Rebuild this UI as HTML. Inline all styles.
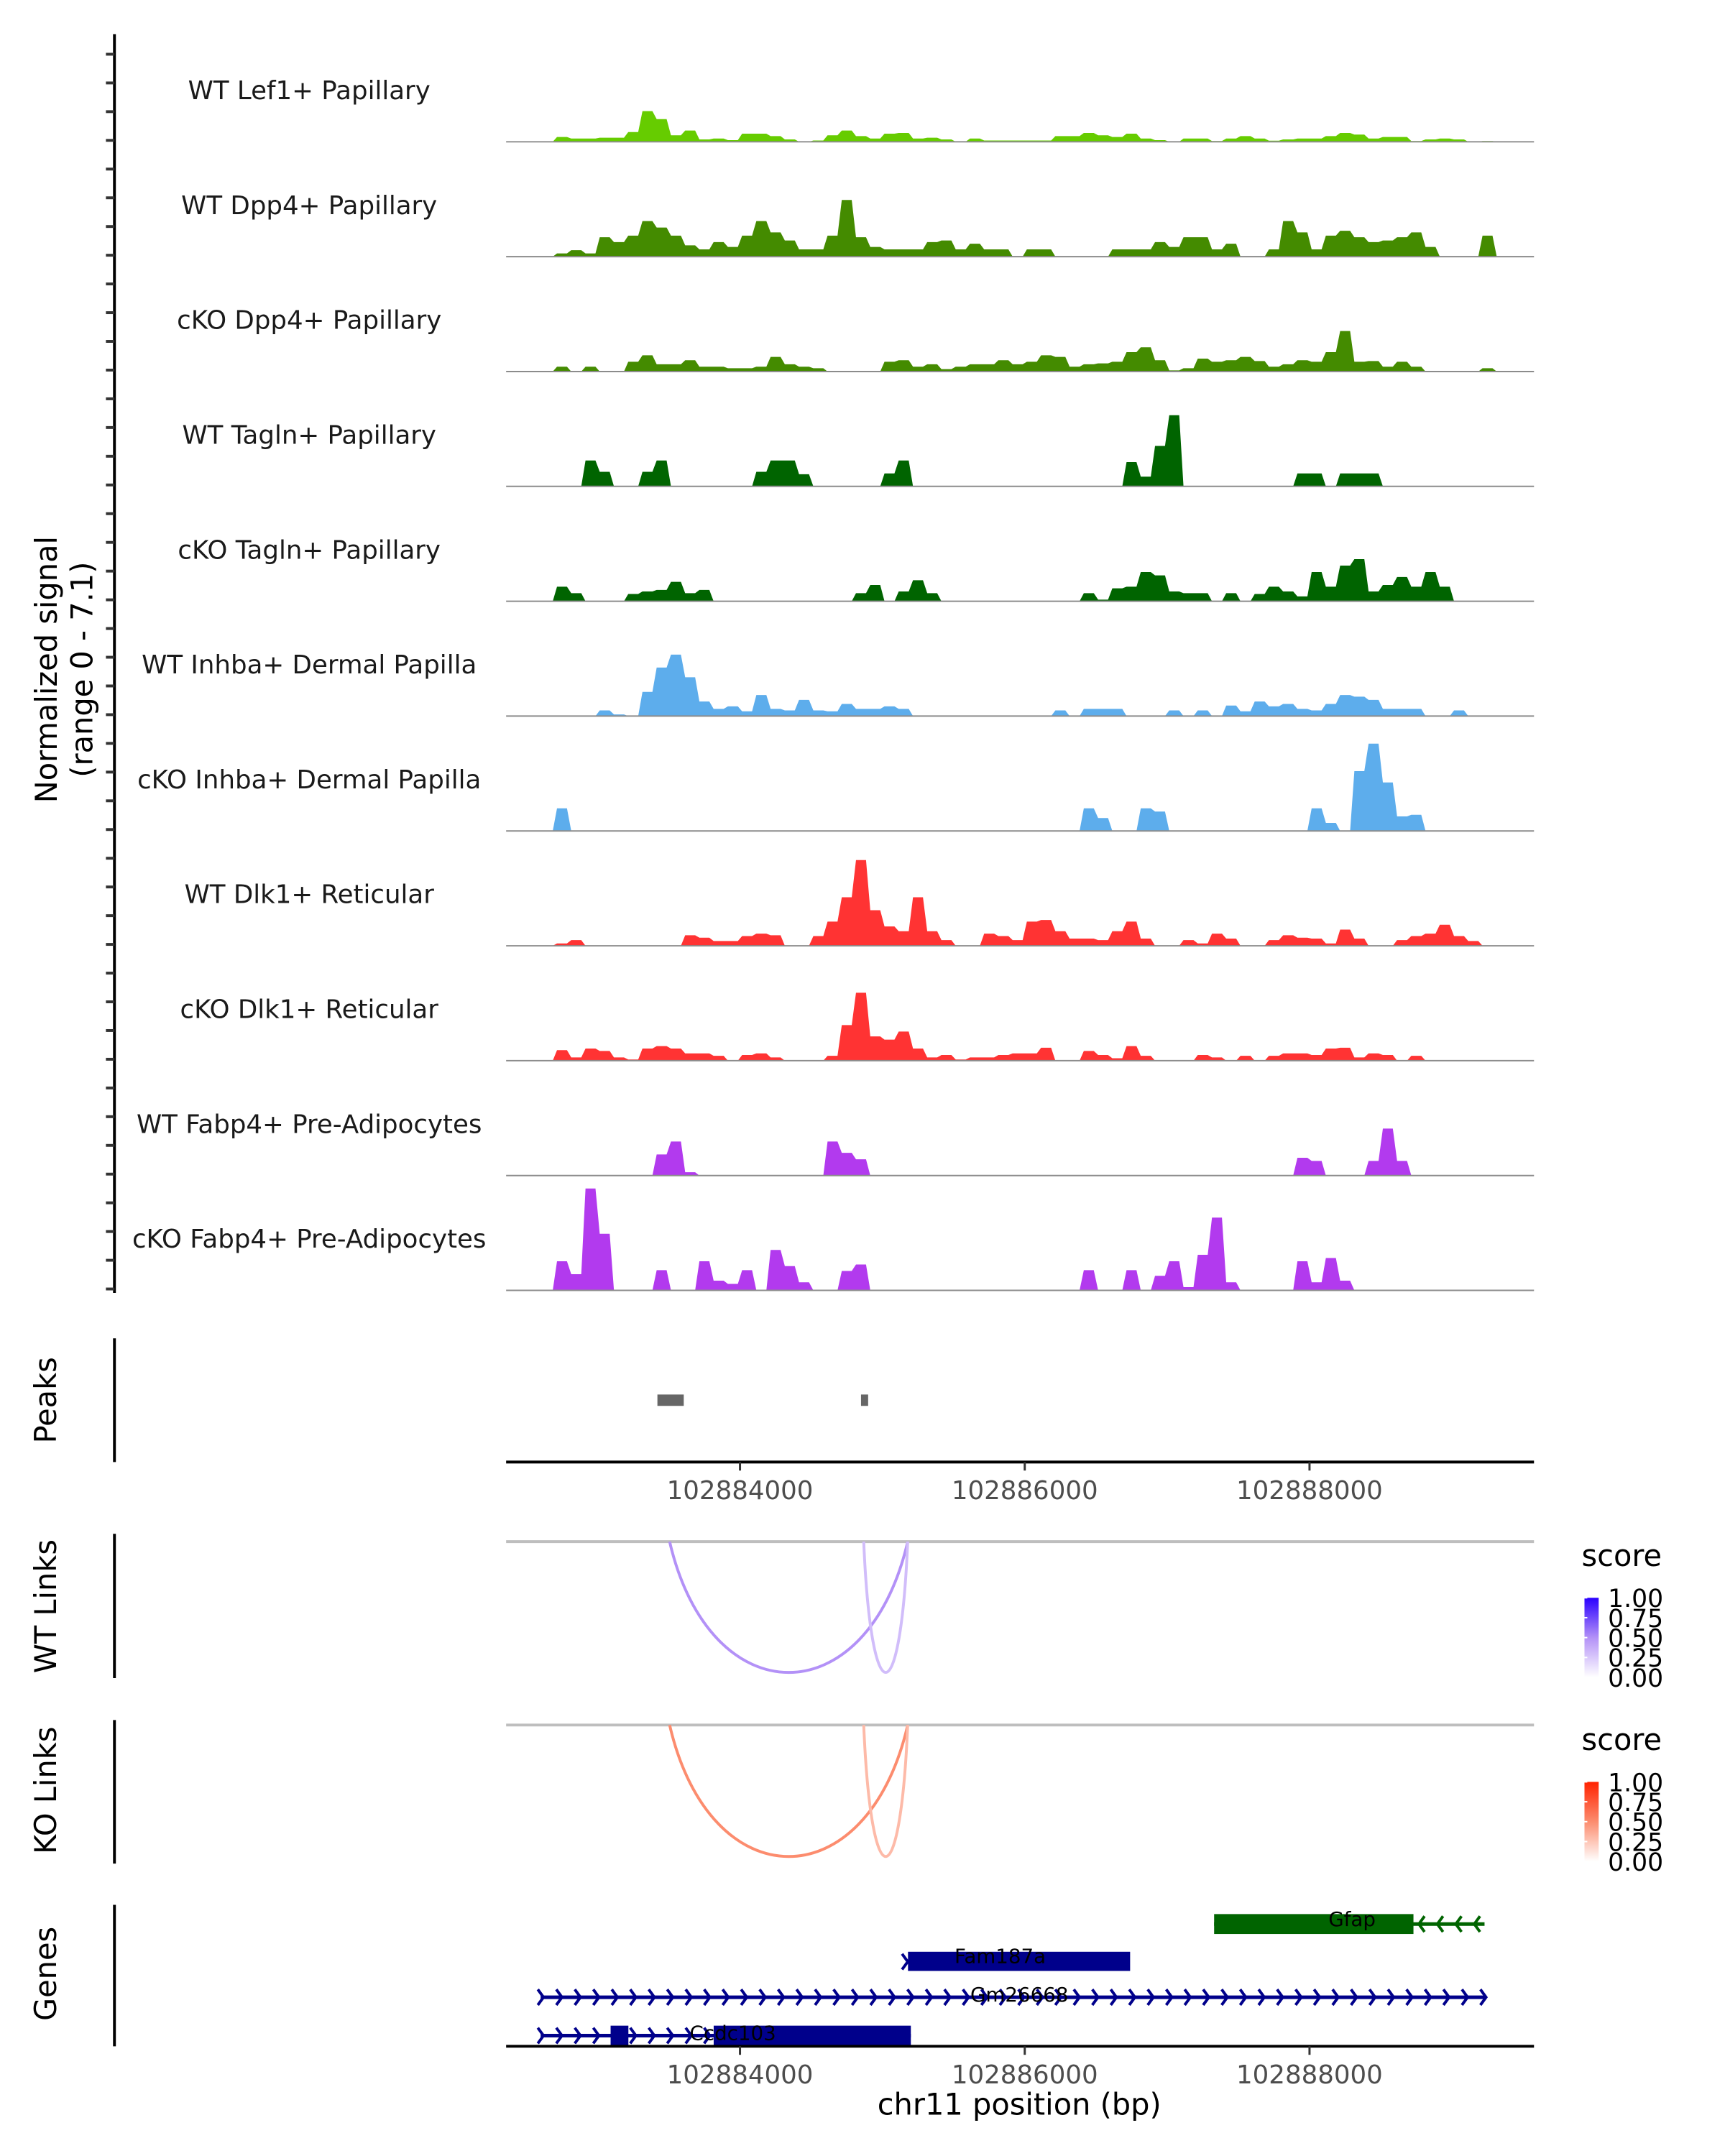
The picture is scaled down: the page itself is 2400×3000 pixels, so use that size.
<!DOCTYPE html>
<html><head><meta charset="utf-8"><style>
html,body{margin:0;padding:0;background:#fff;}
svg{display:block;font-family:"DejaVu Sans","Liberation Sans",sans-serif;}
</style></head><body>
<svg id="chart" width="2400" height="3000" viewBox="0 0 2400 3000" xmlns="http://www.w3.org/2000/svg"></svg>
<script>
const binStart = 102882400;
const binWidth = 100;
const trackNames = ["WT Lef1+ Papillary","WT Dpp4+ Papillary","cKO Dpp4+ Papillary","WT Tagln+ Papillary","cKO Tagln+ Papillary","WT Inhba+ Dermal Papilla","cKO Inhba+ Dermal Papilla","WT Dlk1+ Reticular","cKO Dlk1+ Reticular","WT Fabp4+ Pre-Adipocytes","cKO Fabp4+ Pre-Adipocytes"];
const trackColors = ["#66cc00","#448b00","#448b00","#006400","#006400","#5dadec","#5dadec","#ff3333","#ff3333","#b23aee","#b23aee"];
const lef1 = [0,0,0,0.3,0.2,0.2,0.25,0.25,0.6,1.9, 1.4,0.4,0.7,0.15,0.2,0.1,0.5,0.5,0.35,0.15, 0,0.08,0.4,0.7,0.35,0.2,0.5,0.55,0.2,0.25, 0.15,0,0.2,0.08,0.08,0.08,0.08,0.08,0.35,0.35, 0.55,0.4,0.3,0.5,0.2,0.1,0,0.2,0.2,0.05, 0.2,0.35,0.2,0.07,0.15,0.2,0.2,0.35,0.55,0.45, 0.2,0.3,0.3,0.05,0.15,0.2,0.15,0,0.05,0, 0,0];
const wtDpp4 = [0,0,0,0.2,0.4,0.2,1.2,0.9,1.3,2.2, 1.8,1.3,0.7,0.45,0.9,0.6,1.3,2.2,1.5,1.0, 0.45,0.45,1.3,3.5,1.2,0.6,0.45,0.45,0.45,0.9, 1.0,0.45,0.8,0.45,0.45,0,0.45,0.45,0,0, 0,0,0.45,0.45,0.45,0.9,0.6,1.2,1.2,0.45, 0.8,0,0,0.45,2.2,1.5,0.45,1.3,1.6,1.2, 0.9,1.0,1.2,1.5,0.6,0,0,0,1.3,0, 0,0];
const ckoDpp4 = [0,0,0,0.3,0,0.3,0,0,0.6,1.0, 0.45,0.45,0.7,0.3,0.3,0.2,0.2,0.3,0.9,0.45, 0.3,0.2,0,0,0,0,0.6,0.7,0.3,0.45, 0.15,0.3,0.45,0.45,0.7,0.45,0.6,1.0,0.9,0.3, 0.45,0.5,0.6,1.2,1.5,0.7,0.07,0.2,0.8,0.6, 0.7,0.9,0.65,0.3,0.45,0.7,0.6,1.2,2.5,0.6, 0.65,0.3,0.6,0.3,0,0,0,0,0.2,0, 0,0];
const wtTagln = [0,0,0,0,0,1.6,0.9,0,0,0.9, 1.6,0,0,0,0,0,0,0.9,1.6,1.6, 0.75,0,0,0,0,0,0.8,1.6,0,0, 0,0,0,0,0,0,0,0,0,0, 0,0,0,1.5,0.6,2.5,4.4,0,0,0, 0,0,0,0,0,0.8,0.8,0,0.8,0.8, 0.8,0,0,0,0,0,0,0,0,0, 0,0];
const ckoTagln = [0,0,0,0.9,0.5,0,0,0,0.45,0.6, 0.7,1.2,0.5,0.7,0,0,0,0,0,0, 0,0,0,0,0.5,1.0,0,0.6,1.3,0.5, 0,0,0,0,0,0,0,0,0,0, 0.5,0.1,0.8,0.9,1.8,1.6,0.6,0.5,0.5,0, 0.5,0,0.45,0.9,0.6,0.3,1.8,0.9,2.2,2.6, 0.6,1.0,1.5,0.9,1.8,0.9,0,0,0,0, 0,0];
const wtInhba = [0,0,0,0,0,0,0.35,0.1,0,1.5, 3.0,3.8,2.4,0.9,0.45,0.6,0.3,1.3,0.45,0.35, 1.0,0.35,0.3,0.75,0.45,0.45,0.6,0.45,0,0, 0,0,0,0,0,0,0,0,0.35,0, 0.45,0.45,0.45,0,0,0,0.35,0,0.35,0, 0.65,0.3,0.9,0.6,0.75,0.45,0.35,0.75,1.3,1.2, 1.0,0.45,0.45,0.45,0,0,0.35,0,0,0, 0,0];
const ckoInhba = [0,0,0,1.4,0,0,0,0,0,0, 0,0,0,0,0,0,0,0,0,0, 0,0,0,0,0,0,0,0,0,0, 0,0,0,0,0,0,0,0,0,0, 1.4,0.8,0,0,1.4,1.2,0,0,0,0, 0,0,0,0,0,0,1.4,0.5,0,3.7, 5.4,3.0,0.9,1.0,0,0,0,0,0,0, 0,0];
const wtDlk1 = [0,0,0,0.15,0.35,0,0,0,0,0, 0,0,0.65,0.5,0.3,0.3,0.6,0.75,0.65,0, 0,0.6,1.5,3.0,5.3,2.2,1.2,0.9,3.0,0.9, 0.35,0,0,0.75,0.6,0.35,1.5,1.6,0.9,0.45, 0.45,0.35,0.9,1.5,0.45,0,0,0.35,0.15,0.75, 0.45,0,0,0.35,0.65,0.5,0.45,0.15,1.0,0.45, 0,0,0.35,0.6,0.75,1.3,0.6,0.3,0,0, 0,0];
const ckoDlk1 = [0,0,0,0.65,0.2,0.75,0.6,0.2,0.07,0.75, 0.9,0.75,0.45,0.45,0.3,0,0.35,0.45,0.2,0, 0,0,0.3,2.2,4.2,1.5,1.3,1.8,0.75,0.2, 0.35,0.07,0.2,0.2,0.35,0.45,0.45,0.8,0,0, 0.6,0.35,0.15,0.9,0.3,0,0,0,0.35,0.2, 0,0.3,0,0.3,0.45,0.45,0.35,0.75,0.8,0.2, 0.45,0.35,0,0.3,0,0,0,0,0,0, 0,0];
const wtFabp4 = [0,0,0,0,0,0,0,0,0,0, 1.3,2.1,0.2,0,0,0,0,0,0,0, 0,0,2.1,1.4,1.0,0,0,0,0,0, 0,0,0,0,0,0,0,0,0,0, 0,0,0,0,0,0,0,0,0,0, 0,0,0,0,0,1.1,0.9,0,0,0, 0.9,2.9,0.9,0,0,0,0,0,0,0, 0,0];
const ckoFabp4 = [0,0,0,1.8,1.0,6.3,3.5,0,0,0, 1.25,0,0,1.8,0.6,0.4,1.25,0,2.5,1.5, 0.5,0,0,1.2,1.6,0,0,0,0,0, 0,0,0,0,0,0,0,0,0,0, 1.25,0,0,1.25,0,0.9,1.8,0.2,2.2,4.5, 0.5,0,0,0,0,1.8,0.5,2.0,0.6,0, 0,0,0,0,0,0,0,0,0,0, 0,0];
const trackData = [lef1,wtDpp4,ckoDpp4,wtTagln,ckoTagln,wtInhba,ckoInhba,wtDlk1,ckoDlk1,wtFabp4,ckoFabp4];
const yMax = 7.1;
const peakStarts = [102883420, 102884850];
const peakEnds = [102883605, 102884900];
const xTicks = [102884000, 102886000, 102888000];
const linkStarts = [102883506, 102884869];
const linkEnds = [102885178, 102885178];
const wtLinkScores = [0.5, 0.3];
const koLinkScores = [0.5, 0.3];
const legendTicks = ["1.00","0.75","0.50","0.25","0.00"];
const geneNames = ["Gfap","Fam187a","Gm26668","Ccdc103"];

const NS = "http://www.w3.org/2000/svg";
const svgRoot = document.getElementById("chart");
const svg = document.createElementNS(NS, "g");
svg.setAttribute("transform", "scale(0.989)");


svgRoot.appendChild(svg);
function mk(tag, attrs, parent) {
  const e = document.createElementNS(NS, tag);
  for (const k in attrs) e.setAttribute(k, attrs[k]);
  (parent || svg).appendChild(e);
  return e;
}
const plotL = 712, plotR = 2158;
function xs(bp) { return 1041 + (bp - 102884000) * 0.2003; }
const trackH = 161.6;
function baseY(i) { return 199.5 + i * trackH; }
function ys(i, v) { return baseY(i) - v / yMax * trackH; }

const ax = mk("line", {x1:161, y1:48, x2:161, y2:1819, stroke:"#000", "stroke-width":4});


for (let i = 0; i < trackData.length; i++) {
  for (let k = 0; k < 4; k++) {
    const y = baseY(i) - k * trackH / 4 - 2;
    const t = mk("line", {x1:149, y1:y, x2:161, y2:y, stroke:"#333", "stroke-width":4});
    
    
  }
}
const yt = mk("text", {x:0, y:0, "font-size":42, "text-anchor":"middle", transform:"translate(80,942) rotate(-90)"});


yt.textContent = "Normalized signal";
const yt2 = mk("text", {x:0, y:0, "font-size":42, "text-anchor":"middle", transform:"translate(130,942) rotate(-90)"});


yt2.textContent = "(range 0 - 7.1)";

for (let i = 0; i < trackData.length; i++) {
  const vals = trackData[i];
  const b = baseY(i);
  let d = "M" + plotL + "," + b;
  for (let j = 0; j < vals.length; j++) {
    const s = binStart + j * binWidth, e = s + binWidth;
    const y = ys(i, vals[j]);
    d += " L" + xs(s + 15).toFixed(1) + "," + y.toFixed(1) + " L" + xs(e - 15).toFixed(1) + "," + y.toFixed(1);
  }
  d += " L" + plotR + "," + b + " Z";
  const p = mk("path", {d:d, fill:trackColors[i], stroke:"none"});
  
  
  const bl = mk("line", {x1:plotL, y1:b, x2:plotR, y2:b, stroke:"#8c8c8c", "stroke-width":2});
  
  
  const lb = mk("text", {x:435, y:b - 60, "font-size":36, "text-anchor":"middle", fill:"#1a1a1a"});
  
  
  lb.textContent = trackNames[i];
}

function panel(title, cy, y1, y2, nm) {
  const l = mk("line", {x1:161, y1:y1, x2:161, y2:y2, stroke:"#000", "stroke-width":4});
  
  
  const t = mk("text", {x:0, y:0, "font-size":42, "text-anchor":"middle", transform:"translate(79," + cy + ") rotate(-90)"});
  
  
  t.textContent = title;
}
panel("Peaks", 1970, 1883, 2057, "peaks");
panel("WT Links", 2260, 2158, 2361, "wt-links");
panel("KO Links", 2519, 2420, 2622, "ko-links");
panel("Genes", 2777, 2680, 2879, "genes");

for (let i = 0; i < peakStarts.length; i++) {
  const r = mk("rect", {x:xs(peakStarts[i]), y:1962, width:Math.max(8, xs(peakEnds[i]) - xs(peakStarts[i])), height:16, fill:"#666"});
  
  
}
function xAxis(y, nm) {
  const l = mk("line", {x1:plotL, y1:y, x2:plotR, y2:y, stroke:"#000", "stroke-width":4});
  
  
  for (const t of xTicks) {
    const tk = mk("line", {x1:xs(t), y1:y, x2:xs(t), y2:y + 12, stroke:"#333", "stroke-width":3});
    
    
    const tl = mk("text", {x:xs(t), y:y + 52, "font-size":36, "text-anchor":"middle", fill:"#4d4d4d"});
    
    
    tl.textContent = t;
  }
}
xAxis(2057, "peaks-x-axis");

function lerpHex(a, b, t) {
  const pa = [1,3,5].map(k => parseInt(a.substr(k,2),16));
  const pb = [1,3,5].map(k => parseInt(b.substr(k,2),16));
  return "rgb(" + pa.map((v,k) => Math.round(v + (pb[k]-v)*t)).join(",") + ")";
}
function scoreColor(stops, s) {
  if (s <= 0.5) return lerpHex(stops[0], stops[1], s / 0.5);
  return lerpHex(stops[1], stops[2], (s - 0.5) / 0.5);
}
function links(topY, botY, scores, stops, nm) {
  const g = mk("line", {x1:plotL, y1:topY, x2:plotR, y2:topY, stroke:"#bebebe", "stroke-width":4});
  
  
  const c = topY + (botY - topY) / 0.75;
  for (let i = 0; i < linkStarts.length; i++) {
    const x1 = xs(linkStarts[i]), x2 = xs(linkEnds[i]);
    const w = x2 - x1;
    const p = mk("path", {d:"M" + x1 + "," + topY + " C" + (x1 + w*0.17) + "," + c + " " + (x2 - w*0.17) + "," + c + " " + x2 + "," + topY, fill:"none", stroke:scoreColor(stops, scores[i]), "stroke-width":4});
    
    
  }
}
const wtStops = ["#ffffff", "#b391f7", "#2a00ff"];
const koStops = ["#ffffff", "#fc8c6e", "#ff2200"];
links(2169, 2353, wtLinkScores, wtStops, "wt-links");
links(2427, 2612, koLinkScores, koStops, "ko-links");

const defs = mk("defs", {});
function legend(topY, stops, id, nm) {
  const gr = mk("linearGradient", {id:id, x1:0, y1:1, x2:0, y2:0}, defs);
  mk("stop", {offset:"0", "stop-color":stops[0]}, gr);
  mk("stop", {offset:"0.5", "stop-color":stops[1]}, gr);
  mk("stop", {offset:"1", "stop-color":stops[2]}, gr);
  const t = mk("text", {x:2225, y:topY, "font-size":42, fill:"#000"});
  
  
  t.textContent = "score";
  const by = topY + 45, bh = 112;
  const r = mk("rect", {x:2229, y:by, width:20, height:bh, fill:"url(#" + id + ")"});
  
  
  for (let k = 0; k < legendTicks.length; k++) {
    const yy = by + k * bh / 4;
    const tk = mk("line", {x1:2229, y1:yy, x2:2233, y2:yy, stroke:"#fff", "stroke-width":2});
    
    
    const tl = mk("text", {x:2262, y:yy + 13, "font-size":35, fill:"#000"});
    
    
    tl.textContent = legendTicks[k];
  }
}
legend(2203, wtStops, "gwt", "wt-legend");
legend(2462, koStops, "gko", "ko-legend");

const geneStarts = [102887330, 102885180, 102882600, 102882600];
const geneEnds = [102888730, 102886740, 102889230, 102885200];
const geneColors = ["#006400", "#00008b", "#00008b", "#00008b"];
const geneRowY = [2707, 2760, 2810, 2864];
function chevrons(xa, xb, y, dir, col) {
  for (let x = xa; x <= xb; x += 26) {
    const p = mk("polyline", {points: (x - 4*dir) + "," + (y - 11) + " " + (x + 4*dir) + "," + y + " " + (x - 4*dir) + "," + (y + 11), fill:"none", stroke:col, "stroke-width":4});
    
    
  }
}
let L = mk("line", {x1:xs(geneStarts[0]), y1:geneRowY[0], x2:xs(geneEnds[0]) + 100, y2:geneRowY[0], stroke:geneColors[0], "stroke-width":5});
 
chevrons(2000, 2090, geneRowY[0], -1, geneColors[0]);
let R = mk("rect", {x:xs(geneStarts[0]), y:2693, width:xs(geneEnds[0]) - xs(geneStarts[0]), height:28, fill:geneColors[0]});
 
chevrons(1273, 1273, geneRowY[1], 1, geneColors[1]);
R = mk("rect", {x:xs(geneStarts[1]), y:2746, width:xs(geneEnds[1]) - xs(geneStarts[1]), height:27, fill:geneColors[1]});
 
L = mk("line", {x1:xs(geneStarts[2]), y1:geneRowY[2], x2:xs(geneEnds[2]), y2:geneRowY[2], stroke:geneColors[2], "stroke-width":5});
 
chevrons(xs(geneStarts[2]), xs(geneEnds[2]), geneRowY[2], 1, geneColors[2]);
L = mk("line", {x1:xs(geneStarts[3]), y1:geneRowY[3], x2:xs(geneEnds[3]), y2:geneRowY[3], stroke:geneColors[3], "stroke-width":5});
 
chevrons(xs(geneStarts[3]), 1000, geneRowY[3], 1, geneColors[3]);
R = mk("rect", {x:859, y:2850, width:25, height:29, fill:geneColors[3]});
 
R = mk("rect", {x:1004, y:2850, width:xs(geneEnds[3]) - 1004, height:29, fill:geneColors[3]});
 
const labelX = [1902, 1407, 1434, 1031];
const labelY = [2700, 2752, 2806, 2860];
for (let i = 0; i < geneNames.length; i++) {
  const t = mk("text", {x:labelX[i], y:labelY[i] + 10, "font-size":28, "text-anchor":"middle", fill:"#000"});
  
  
  t.textContent = geneNames[i];
}
xAxis(2879, "genes-x-axis");
const xt = mk("text", {x:1434, y:2975, "font-size":42, "text-anchor":"middle", fill:"#000"});


xt.textContent = "chr11 position (bp)";
</script>
</body></html>
